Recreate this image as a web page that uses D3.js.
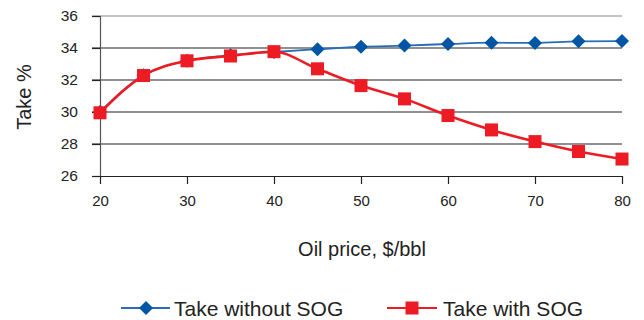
<!DOCTYPE html>
<html><head><meta charset="utf-8">
<script src="https://cdn.jsdelivr.net/npm/d3@7"></script>
<style>body{margin:0;background:#fff}svg{display:block;font-family:"Liberation Sans",Arial,sans-serif}</style>
</head><body><svg id="c" width="644" height="320"></svg>
<script>
const prices = [20,25,30,35,40,45,50,55,60,65,70,75,80];
const takeWithout = [30.0,32.3,33.2,33.55,33.75,33.92,34.08,34.15,34.25,34.33,34.32,34.42,34.43];
const takeWith = [29.95,32.28,33.2,33.5,33.77,32.7,31.65,30.82,29.78,28.88,28.15,27.53,27.06];
const xTicks = [20,30,40,50,60,70,80];
const yTicks = [26,28,30,32,34,36];

const svg = d3.select("#c");
const x = d3.scaleLinear().domain([20,80]).range([100,622]);
const y = d3.scaleLinear().domain([26,36]).range([176,16]);

// gridlines
svg.append("g").selectAll("line").data(yTicks.filter(d=>d>26)).join("line")
  .attr("x1",92).attr("x2",622).attr("y1",d=>y(d)).attr("y2",d=>y(d))
  .attr("stroke",d=>d===36?"#8a8a8a":"#222").attr("stroke-width",1.2);

// y axis
const ya = svg.append("g").attr("transform","translate(100,0)")
  .call(d3.axisLeft(y).tickValues(yTicks).tickSize(8).tickPadding(14));
ya.select(".domain").attr("stroke","#555").attr("stroke-width",1.2);
ya.selectAll(".tick line").attr("stroke","#222").attr("stroke-width",1.2);
ya.selectAll("text").attr("font-size",15.5).attr("fill","#222").attr("font-family","Liberation Sans, Arial, sans-serif");

// x axis
const xa = svg.append("g").attr("transform","translate(0,176)")
  .call(d3.axisBottom(x).tickValues(xTicks).tickSize(8).tickSizeOuter(0).tickPadding(11));
xa.select(".domain").attr("stroke","#222").attr("stroke-width",1.2);
xa.selectAll(".tick line").attr("stroke","#222").attr("stroke-width",1.2);
xa.selectAll("text").attr("font-size",15).attr("fill","#222").attr("font-family","Liberation Sans, Arial, sans-serif");

// lines
const lineW = d3.line().x((d,i)=>x(prices[i])).y(d=>y(d)).curve(d3.curveMonotoneX);
svg.append("path").attr("d",lineW(takeWithout)).attr("fill","none").attr("stroke","#2a6cb8").attr("stroke-width",1.8);
const dm = 7;
svg.append("g").selectAll("path").data(takeWithout).join("path")
  .attr("d",(d,i)=>{const cx=x(prices[i]),cy=y(d);return `M${cx},${cy-dm}L${cx+dm},${cy}L${cx},${cy+dm}L${cx-dm},${cy}Z`;})
  .attr("fill","#0055a5");

svg.append("path").attr("d",lineW(takeWith)).attr("fill","none").attr("stroke","#ed1c24").attr("stroke-width",2.6);
const sq = 13;
svg.append("g").selectAll("rect").data(takeWith).join("rect")
  .attr("x",(d,i)=>x(prices[i])-sq/2).attr("y",d=>y(d)-sq/2).attr("width",sq).attr("height",sq)
  .attr("fill","#ed1c24");

// titles
svg.append("text").attr("transform","translate(31,97) rotate(-90)").attr("text-anchor","middle")
  .attr("font-size",20).attr("fill","#222").text("Take %");
svg.append("text").attr("x",362).attr("y",256).attr("text-anchor","middle")
  .attr("font-size",20).attr("fill","#222").text("Oil price, $/bbl");

// legend
const lg = svg.append("g");
lg.append("line").attr("x1",121).attr("x2",170).attr("y1",308).attr("y2",308).attr("stroke","#2a6cb8").attr("stroke-width",1.8);
lg.append("path").attr("d",`M146,${308-dm}L${146+dm},308L146,${308+dm}L${146-dm},308Z`).attr("fill","#0055a5");
lg.append("text").attr("x",174).attr("y",315.5).attr("font-size",21).attr("fill","#222").text("Take without SOG");
lg.append("line").attr("x1",387).attr("x2",437).attr("y1",308).attr("y2",308).attr("stroke","#ed1c24").attr("stroke-width",1.8);
lg.append("rect").attr("x",412-sq/2).attr("y",308-sq/2).attr("width",sq).attr("height",sq).attr("fill","#ed1c24");
lg.append("text").attr("x",443).attr("y",315.5).attr("font-size",21).attr("fill","#222").text("Take with SOG");
</script></body></html>
